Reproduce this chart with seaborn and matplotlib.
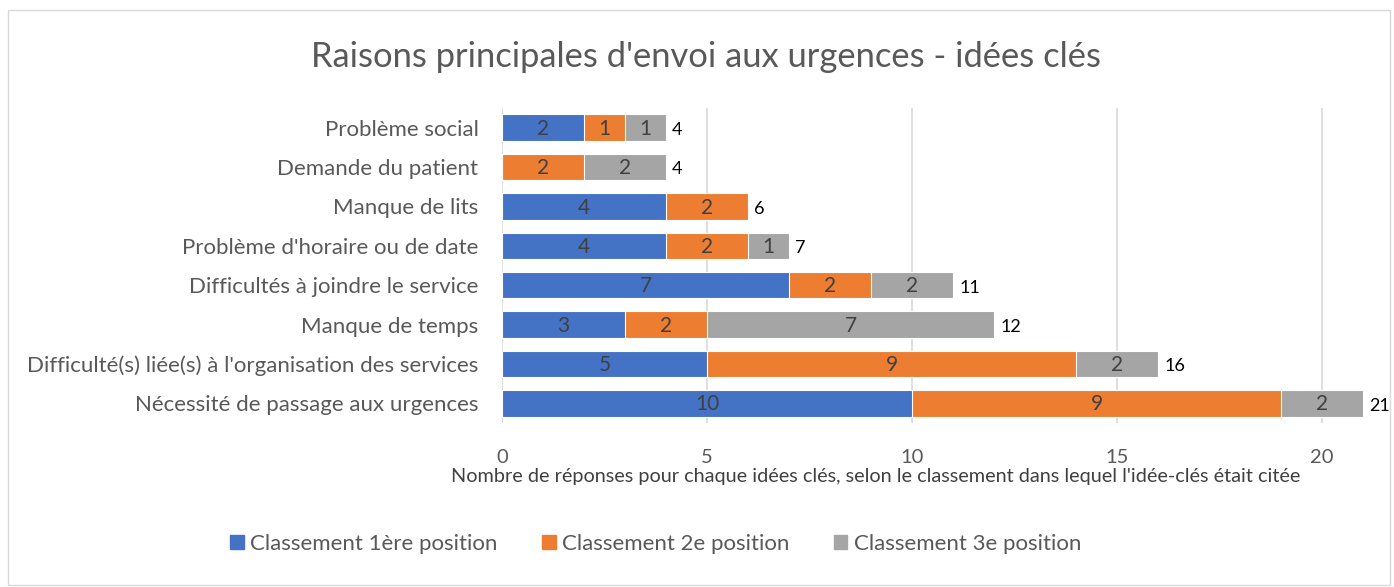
import matplotlib
matplotlib.use("Agg")
import matplotlib.pyplot as plt
import matplotlib.patches as mpatches
import seaborn as sns
import numpy as np
import pandas as pd

categories = ["Problème social", "Demande du patient", "Manque de lits",
              "Problème d'horaire ou de date", "Difficultés à joindre le service",
              "Manque de temps", "Difficulté(s) liée(s) à l'organisation des services",
              "Nécessité de passage aux urgences"]
pos1 = [2, 0, 4, 4, 7, 3, 5, 10]
pos2 = [1, 2, 2, 2, 2, 2, 9, 9]
pos3 = [1, 2, 0, 1, 2, 7, 2, 2]
series_names = ["Classement 1ère position", "Classement 2e position", "Classement 3e position"]
colors = ["#4472C4", "#ED7D31", "#A5A5A5"]

sns.set_style("white")
plt.rcParams['font.family'] = ['Lato', 'DejaVu Sans']

df = pd.DataFrame({"cat": categories, "p1": pos1, "p2": pos2, "p3": pos3})
df["c1"] = df["p1"]
df["c2"] = df["p1"] + df["p2"]
df["c3"] = df["c2"] + df["p3"]

fig = plt.figure(figsize=(13.94, 5.87), dpi=100)
ax = fig.add_axes([502/1394, 1 - 423/587, (1363-502)/1394, (423-108)/587])

# stacked bars: draw cumulative totals back to front
for col, c in zip(["c3", "c2", "c1"], colors[::-1]):
    sns.barplot(data=df, x=col, y="cat", color=c, width=0.67, ax=ax,
                saturation=1, edgecolor="white", linewidth=0.8, orient="h")

# segment labels
for i, row in df.iterrows():
    left = 0
    for val in [row.p1, row.p2, row.p3]:
        if val > 0:
            ax.text(left + val / 2, i + 0.03, str(val), ha="center", va="center",
                    fontsize=15, color="#404040")
        left += val
    ax.text(row.c3 + 0.15, i + 0.06, str(row.c3), ha="left", va="center",
            fontsize=13, color="black")

ax.set_xlim(0, 21)
ax.set_xticks([0, 5, 10, 15, 20])
ax.xaxis.grid(True, color="#D9D9D9", linewidth=1.2)
ax.set_axisbelow(True)
for s in ax.spines.values():
    s.set_visible(False)
ax.tick_params(axis="x", labelsize=14.5, colors="#595959", length=0, pad=19)
ax.tick_params(axis="y", labelsize=16, colors="#595959", length=0, pad=17)
ax.set_ylabel("")
ax.set_xlabel("Nombre de réponses pour chaque idées clés, selon le classement dans lequel l'idée-clés était citée",
              fontsize=14.3, color="#404040", labelpad=2)
ax.xaxis.set_label_coords(0.434, -0.142)

fig.text(706/1394, 1 - 57/587, "Raisons principales d'envoi aux urgences - idées clés",
         ha="center", va="center", fontsize=24.8, color="#595959")

handles = [mpatches.Patch(color=c, label=n) for c, n in zip(colors, series_names)]
fig.legend(handles=handles, loc="center", bbox_to_anchor=(656/1394, 1 - 544/587), ncol=3,
           frameon=False, fontsize=16, labelcolor="#595959", handlelength=0.6,
           handleheight=0.6, handletextpad=0.3, columnspacing=2.0)

fig.patches.append(mpatches.Rectangle((8/1394, 1 - 585/587), 1382/1394, 575/587,
                                      transform=fig.transFigure, fill=False,
                                      edgecolor="#D9D9D9", linewidth=1))

fig.savefig("out.png", dpi=100)
